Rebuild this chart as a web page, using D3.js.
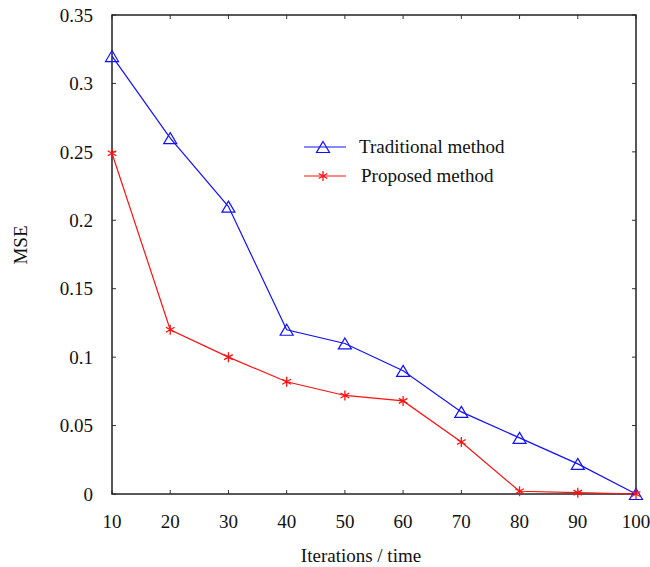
<!DOCTYPE html>
<html>
<head>
<meta charset="utf-8">
<script src="https://cdn.jsdelivr.net/npm/d3@7"></script>
<style>
  body { margin: 0; background: #fff; }
  text { font-family: 'Liberation Serif', 'Times New Roman', serif; fill: #111; }
</style>
</head>
<body>
<div id="chart"></div>
<script>
const iterations = [10, 20, 30, 40, 50, 60, 70, 80, 90, 100]
const traditional = [0.32, 0.26, 0.21, 0.12, 0.11, 0.09, 0.06, 0.041, 0.022, 0]
const proposed = [0.249, 0.12, 0.1, 0.082, 0.072, 0.068, 0.038, 0.002, 0.001, 0]
const yTicks = [0, 0.05, 0.1, 0.15, 0.2, 0.25, 0.3, 0.35]
const xTicks = [10, 20, 30, 40, 50, 60, 70, 80, 90, 100]

const margin = { top: 15, right: 14, bottom: 73, left: 112 }
const width = 650 - margin.left - margin.right
const height = 567 - margin.top - margin.bottom

const svg = d3
  .select('#chart')
  .append('svg')
  .attr('width', 650)
  .attr('height', 567)
  .append('g')
  .attr('transform', 'translate(' + margin.left + ',' + margin.top + ')')

const x = d3.scaleLinear().domain([10, 100]).range([0, width])
const y = d3.scaleLinear().domain([0, 0.35]).range([height, 0])

// inward ticks on every side
const tickLen = 4
xTicks.forEach(t => {
  svg.append('line').attr('x1', x(t)).attr('x2', x(t)).attr('y1', height).attr('y2', height - tickLen).attr('stroke', '#333')
  svg.append('line').attr('x1', x(t)).attr('x2', x(t)).attr('y1', 0).attr('y2', tickLen).attr('stroke', '#333')
})
yTicks.forEach(t => {
  svg.append('line').attr('x1', 0).attr('x2', tickLen).attr('y1', y(t)).attr('y2', y(t)).attr('stroke', '#333')
  svg.append('line').attr('x1', width).attr('x2', width - tickLen).attr('y1', y(t)).attr('y2', y(t)).attr('stroke', '#333')
})

// tick labels
svg.selectAll('.xlab')
  .data(xTicks)
  .enter()
  .append('text')
  .attr('class', 'xlab')
  .attr('x', d => x(d))
  .attr('y', height + 34)
  .attr('text-anchor', 'middle')
  .attr('font-size', 19)
  .text(d => d)

svg.selectAll('.ylab')
  .data(yTicks)
  .enter()
  .append('text')
  .attr('class', 'ylab')
  .attr('x', -19)
  .attr('y', d => y(d))
  .attr('dy', '0.35em')
  .attr('text-anchor', 'end')
  .attr('font-size', 19)
  .text(d => d)

// frame
svg.append('rect')
  .attr('width', width)
  .attr('height', height)
  .attr('fill', 'none')
  .attr('stroke', '#222')
  .attr('stroke-width', 1.5)

const line = d3.line()
  .x((d, i) => x(iterations[i]))
  .y(d => y(d))

svg.append('path')
  .datum(traditional)
  .attr('fill', 'none')
  .attr('stroke', '#1010ff')
  .attr('stroke-width', 1.2)
  .attr('d', line)

svg.append('path')
  .datum(proposed)
  .attr('fill', 'none')
  .attr('stroke', '#ff1010')
  .attr('stroke-width', 1.2)
  .attr('d', line)

const triangle = 'M0,-6L6.5,5L-6.5,5Z'
function drawTri(g, cx, cy) {
  g.append('path')
    .attr('d', triangle)
    .attr('transform', 'translate(' + cx + ',' + (cy + 0.5) + ')')
    .attr('fill', 'none')
    .attr('stroke', '#1010ff')
    .attr('stroke-width', 1.2)
}
function drawStar(g, cx, cy) {
  const r = 5
  let d = ''
  for (let k = 0; k < 3; k++) {
    const a = Math.PI / 2 + k * Math.PI / 3
    d += 'M' + (cx + r * Math.cos(a)) + ',' + (cy + r * Math.sin(a)) +
      'L' + (cx - r * Math.cos(a)) + ',' + (cy - r * Math.sin(a))
  }
  g.append('path')
    .attr('d', d)
    .attr('stroke', '#ff1010')
    .attr('stroke-width', 1.3)
}

traditional.forEach((v, i) => drawTri(svg, x(iterations[i]), y(v)))
proposed.forEach((v, i) => drawStar(svg, x(iterations[i]), y(v)))

// legend
const legend = svg.append('g').attr('transform', 'translate(192,132)')
legend.append('line').attr('x1', 0).attr('x2', 42).attr('y1', 0).attr('y2', 0)
  .attr('stroke', '#1010ff').attr('stroke-width', 1.2)
drawTri(legend, 19, 0)
legend.append('text').attr('x', 55).attr('y', 0).attr('dy', '0.32em')
  .attr('font-size', 19).text('Traditional method')

legend.append('line').attr('x1', 0).attr('x2', 42).attr('y1', 29).attr('y2', 29)
  .attr('stroke', '#ff1010').attr('stroke-width', 1.2)
drawStar(legend, 19, 29)
legend.append('text').attr('x', 57).attr('y', 29).attr('dy', '0.32em')
  .attr('font-size', 19).text('Proposed method')

// axis titles
svg.append('text')
  .attr('x', 249)
  .attr('y', height + 68)
  .attr('text-anchor', 'middle')
  .attr('font-size', 19)
  .text('Iterations / time')

svg.append('text')
  .attr('transform', 'translate(-85,' + 230 + ') rotate(-90)')
  .attr('text-anchor', 'middle')
  .attr('font-size', 19)
  .text('MSE')
</script>
</body>
</html>
